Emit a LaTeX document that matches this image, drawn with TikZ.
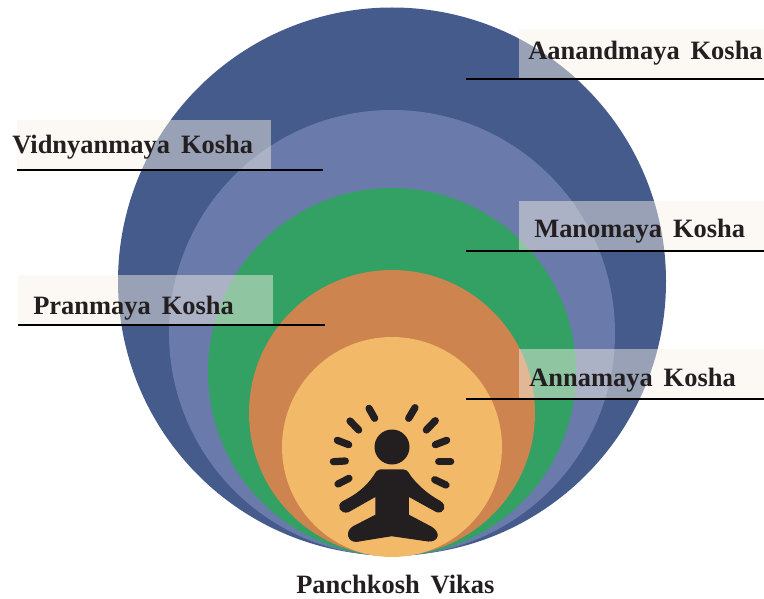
\documentclass[tikz,border=0pt]{standalone}
\usepackage{fontspec}
\setmainfont{Liberation Serif}[WordSpace=1.65]
\usepackage{tikz}
\usetikzlibrary{positioning}

\definecolor{kosharing}{HTML}{445B8B}
\definecolor{vidnyanring}{HTML}{6A7BAB}
\definecolor{manoring}{HTML}{33A064}
\definecolor{pranring}{HTML}{CE844F}
\definecolor{annaring}{HTML}{F1B968}
\definecolor{inkdark}{HTML}{231F20}
\definecolor{bandcream}{HTML}{F8F1E6}

\tikzset{
	ring/.style={circle, inner sep=0pt, outer sep=0pt},
	band/.style={anchor=north west, inner sep=0pt, outer sep=0pt, fill=bandcream, fill opacity=.47, minimum height=36.75pt},
	koshalabel/.style={anchor=base west, inner sep=0pt, text=inkdark, font=\fontsize{19.85}{24}\selectfont\bfseries},
	leader/.style={draw=black, line width=1.4pt},
	ray/.style={draw=inkdark, line width=5.4pt, line cap=round}
}

\begin{document}
\begin{tikzpicture}[x=.75pt, y=-.75pt]
	\useasboundingbox (0,0) rectangle (764,599);

	\node[ring, fill=kosharing, minimum size=411pt] (aanandRing) at (392,281.5) {};
	\node[ring, fill=vidnyanring, minimum size=334.5pt] (vidnyanRing) at (392,333) {};
	\node[ring, fill=manoring, minimum size=276pt] (manoRing) at (392,372) {};
	\node[ring, fill=pranring, minimum size=214.5pt] (pranRing) at (392,413) {};
	\node[ring, fill=annaring, minimum size=165pt] (annaRing) at (392,447) {};

	\node[band, minimum width=183.75pt] (aanandBand) at (519,29) {};
	\node[band, minimum width=183.75pt] (manoBand) at (519,201) {};
	\node[band, minimum width=183.75pt] (annaBand) at (519,348.5) {};
	\node[band, minimum width=190.5pt] (vidnyanBand) at (17,120) {};
	\node[band, minimum width=191.25pt] (pranBand) at (18,275) {};

	\coordinate (aanandEnd) at (466,79);
	\coordinate (manoEnd) at (466,251);
	\coordinate (annaEnd) at (466,399);
	\coordinate (vidnyanEnd) at (323,170);
	\coordinate (pranEnd) at (325,325);

	\draw[leader] (aanandEnd) -- (aanandEnd -| aanandBand.east);
	\draw[leader] (manoEnd) -- (manoEnd -| manoBand.east);
	\draw[leader] (annaEnd) -- (annaEnd -| annaBand.east);
	\draw[leader] (vidnyanBand.west |- vidnyanEnd) -- (vidnyanEnd);
	\draw[leader] (pranBand.west |- pranEnd) -- (pranEnd);

	\node[koshalabel] (aanandText) at (528,60) {Aanandmaya Kosha};
	\node[koshalabel] (manoText) at (534,238) {Manomaya Kosha};
	\node[koshalabel] (annaText) at (529,386) {Annamaya Kosha};
	\node[koshalabel] (vidnyanText) at (12,154) {Vidnyanmaya Kosha};
	\node[koshalabel] (pranText) at (33,314) {Pranmaya Kosha};
	\node[koshalabel] (captionText) at (296,593) {Panchkosh Vikas};

	% the seated figure
	\fill[inkdark] (392,447) circle (17.5);
	\begin{scope}[shift={(300,380)}, x=.25pt, y=-.25pt]
		\foreach \xa/\ya/\xb/\yb in {207/85/224/115, 150/123/176/150, 112/181/146/194, 100/245/136/243, 114/312/147/295, 345/83/326/115, 406/122/379/150, 440/181/406/194, 452/245/416/245, 438/315/404/299}
			\draw[ray] (\xa,\ya) -- (\xb,\yb);
		\filldraw[fill=inkdark, draw=inkdark, line width=.8pt, line join=round] (240,270) -- (310,270)
			.. controls (322,270) and (326,282) .. (332,290)
			.. controls (355,320) and (385,345) .. (420,364)
			.. controls (440,376) and (432,400) .. (410,395)
			-- (325,348) -- (325,405) -- (395,442)
			.. controls (420,458) and (416,484) .. (385,483)
			-- (275,467) -- (170,484)
			.. controls (145,486) and (135,455) .. (160,440)
			-- (228,405) -- (228,348) -- (145,395)
			.. controls (122,402) and (108,376) .. (130,364)
			.. controls (170,345) and (200,320) .. (222,288)
			.. controls (228,278) and (232,270) .. (240,270) -- cycle;
	\end{scope}
\end{tikzpicture}
\end{document}
